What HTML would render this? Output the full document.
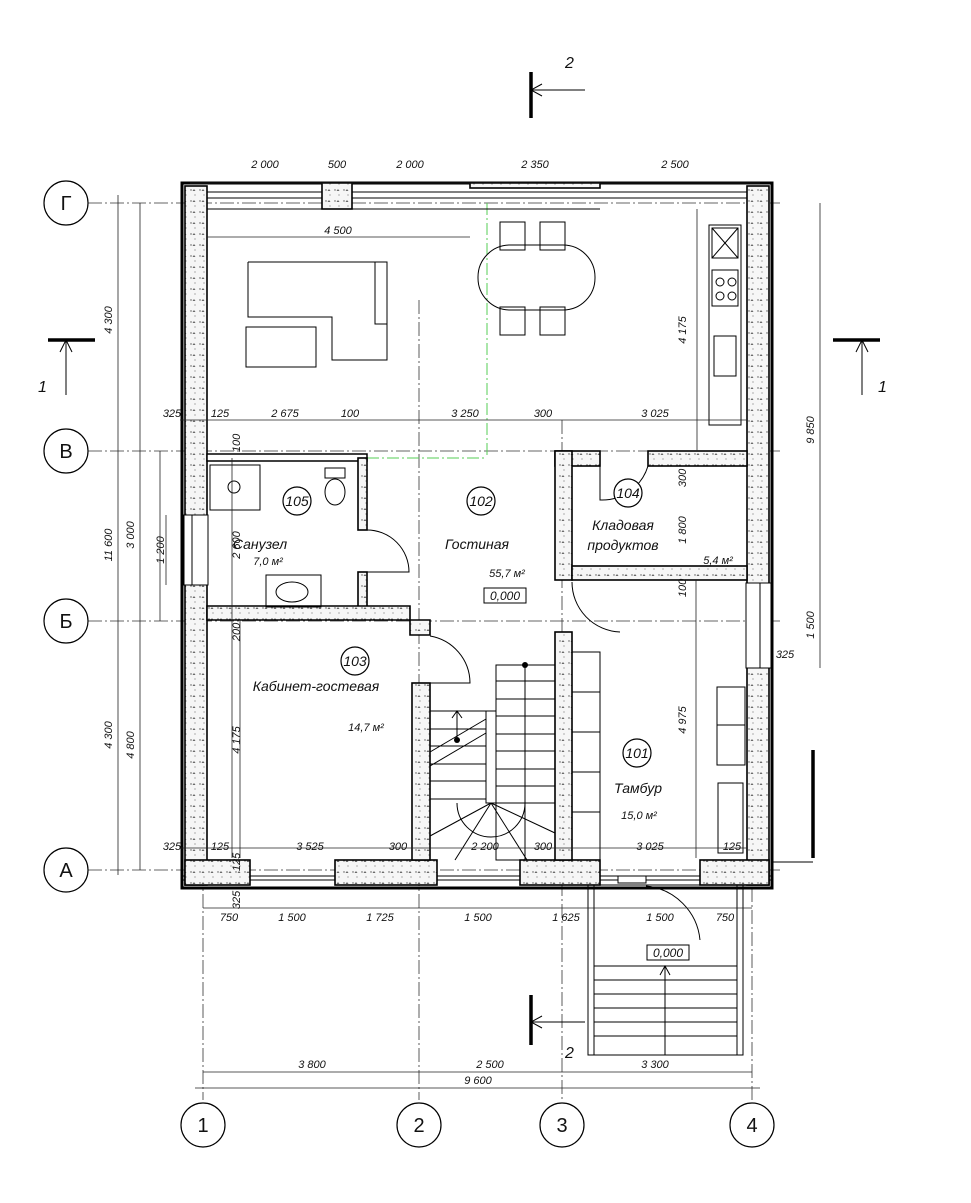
<!DOCTYPE html>
<html><head><meta charset="utf-8"><style>
body{margin:0;background:#fff}
svg{display:block}
text{font-family:"Liberation Sans",sans-serif;font-style:italic;fill:#111}
.w{fill:url(#dots);stroke:#000;stroke-width:1.6}
.t{stroke:#000;stroke-width:1;fill:none}
.ax{stroke:#333;stroke-width:0.8;stroke-dasharray:14 3 2 3;fill:none}
.g{stroke:#5c5;stroke-width:1;stroke-dasharray:12 3 2 3;fill:none}
.d{stroke:#222;stroke-width:0.8;fill:none}
.s{font-size:11px}
</style></head><body>
<svg width="971" height="1203" viewBox="0 0 971 1203" xmlns="http://www.w3.org/2000/svg">
<defs><pattern id="dots" width="9" height="11" patternUnits="userSpaceOnUse"><rect width="9" height="11" fill="#f6f6f6"/><circle cx="2" cy="3" r="0.7" fill="#555"/><circle cx="6" cy="8" r="0.6" fill="#777"/><path d="M5 2 l1.5 2 h-3z" fill="#666"/></pattern></defs>
<rect width="971" height="1203" fill="#fff"/>
<g class="ax">
<line x1="88" y1="203" x2="780" y2="203"/><line x1="88" y1="451" x2="780" y2="451"/>
<line x1="88" y1="621" x2="780" y2="621"/><line x1="88" y1="870" x2="780" y2="870"/>
<line x1="203" y1="190" x2="203" y2="1100"/><line x1="419" y1="300" x2="419" y2="1100"/>
<line x1="562" y1="420" x2="562" y2="1100"/><line x1="752" y1="580" x2="752" y2="1100"/>
</g>
<g class="g"><line x1="487" y1="203" x2="487" y2="458"/><line x1="207" y1="458" x2="487" y2="458"/></g>
<g fill="#fff" stroke="#000" stroke-width="1.2">
<circle cx="66" cy="203" r="22"/><circle cx="66" cy="451" r="22"/><circle cx="66" cy="621" r="22"/><circle cx="66" cy="870" r="22"/>
<circle cx="203" cy="1125" r="22"/><circle cx="419" cy="1125" r="22"/><circle cx="562" cy="1125" r="22"/><circle cx="752" cy="1125" r="22"/>
</g>
<g font-size="20" text-anchor="middle" style="font-family:'Liberation Serif',serif">
<text x="66" y="210" style="font-style:normal">Г</text><text x="66" y="458" style="font-style:normal">В</text><text x="66" y="628" style="font-style:normal">Б</text><text x="66" y="877" style="font-style:normal">А</text>
<text x="203" y="1132" style="font-style:normal">1</text><text x="419" y="1132" style="font-style:normal">2</text><text x="562" y="1132" style="font-style:normal">3</text><text x="752" y="1132" style="font-style:normal">4</text>
</g>
<rect x="182" y="183" width="590" height="705" fill="none" stroke="#000" stroke-width="3"/>
<rect class="w" x="185" y="186" width="22" height="699"/>
<rect class="w" x="747" y="186" width="22" height="699"/>
<rect fill="#fff" x="184" y="515" width="24" height="70" stroke="#000"/>
<line class="t" x1="192" y1="515" x2="192" y2="585"/>
<rect fill="#fff" x="746" y="583" width="25" height="85" stroke="#000"/>
<line class="t" x1="760" y1="583" x2="760" y2="668"/>
<g class="t"><line x1="207" y1="192" x2="747" y2="192"/><line x1="207" y1="198" x2="747" y2="198"/><line x1="207" y1="209" x2="322" y2="209"/><line x1="352" y1="209" x2="600" y2="209"/></g>
<rect class="w" x="322" y="183" width="30" height="26"/>
<rect class="w" x="470" y="183" width="130" height="5"/>
<g class="t"><line x1="182" y1="876" x2="772" y2="876"/><line x1="182" y1="880" x2="772" y2="880"/></g>
<rect class="w" x="185" y="860" width="65" height="25"/>
<rect class="w" x="335" y="860" width="102" height="25"/>
<rect class="w" x="520" y="860" width="80" height="25"/>
<rect class="w" x="700" y="860" width="69" height="25"/>
<rect fill="#fff" stroke="#000" x="618" y="876" width="28" height="7"/>
<rect class="w" x="555" y="451" width="45" height="15"/>
<rect class="w" x="648" y="451" width="99" height="15"/>
<rect class="w" x="555" y="451" width="17" height="129"/>
<rect class="w" x="572" y="566" width="175" height="14"/>
<rect x="207" y="454" width="160" height="7" fill="#fff" stroke="#000" stroke-width="1.5"/>
<rect class="w" x="358" y="458" width="9" height="72"/>
<rect class="w" x="358" y="572" width="9" height="40"/>
<path class="w" d="M207 606 H410 V620 H430 V635 H410 V620 H207 Z"/>
<rect class="w" x="412" y="683" width="18" height="177"/>
<rect class="w" x="555" y="632" width="17" height="228"/>
<g class="t">
<path d="M367 530 A42 42 0 0 1 409 572 H367"/>
<path d="M620 632 A50 50 0 0 1 572 582"/>
<path d="M600 466 V500 A48 48 0 0 0 648 466"/>
<path d="M430 636 A48 48 0 0 1 470 683 H430"/>
<path d="M646 886 A60 60 0 0 1 700 940"/>
</g>
<g class="t" stroke-width="1.4">
<path d="M248 262 H387 V324 H375 V262 M248 262 V317 H332 V360 H387 V324"/>
<rect x="246" y="327" width="70" height="40"/>
<rect x="478" y="245" width="117" height="65" rx="32"/>
<rect x="500" y="222" width="25" height="28"/><rect x="540" y="222" width="25" height="28"/>
<rect x="500" y="307" width="25" height="28"/><rect x="540" y="307" width="25" height="28"/>
<rect x="709" y="225" width="32" height="200"/>
<rect x="712" y="228" width="26" height="30"/><line x1="712" y1="228" x2="738" y2="258"/><line x1="738" y1="228" x2="712" y2="258"/>
<rect x="712" y="270" width="26" height="36"/><circle cx="720" cy="282" r="4"/><circle cx="732" cy="282" r="4"/><circle cx="720" cy="296" r="4"/><circle cx="732" cy="296" r="4"/>
<rect x="714" y="336" width="22" height="40"/>
<rect x="210" y="465" width="50" height="45"/><circle cx="234" cy="487" r="6"/>
<rect x="325" y="468" width="20" height="10"/><ellipse cx="335" cy="492" rx="10" ry="13"/>
<rect x="266" y="575" width="55" height="32"/><ellipse cx="292" cy="592" rx="16" ry="10"/>
<rect x="572" y="652" width="28" height="208"/>
<line x1="572" y1="692" x2="600" y2="692"/><line x1="572" y1="732" x2="600" y2="732"/><line x1="572" y1="772" x2="600" y2="772"/><line x1="572" y1="812" x2="600" y2="812"/>
<rect x="717" y="687" width="28" height="78"/><line x1="717" y1="725" x2="745" y2="725"/>
<rect x="718" y="783" width="25" height="70"/>
</g>
<g class="t">
<rect x="496" y="665" width="59" height="195" fill="none"/>
<line x1="525" y1="665" x2="525" y2="860"/>
<line x1="496" y1="681" x2="555" y2="681"/><line x1="496" y1="699" x2="555" y2="699"/><line x1="496" y1="716" x2="555" y2="716"/><line x1="496" y1="734" x2="555" y2="734"/><line x1="496" y1="751" x2="555" y2="751"/><line x1="496" y1="769" x2="555" y2="769"/><line x1="496" y1="786" x2="555" y2="786"/><line x1="496" y1="803" x2="555" y2="803"/>
<line x1="430" y1="711" x2="486" y2="711"/><line x1="430" y1="729" x2="486" y2="729"/><line x1="430" y1="746" x2="486" y2="746"/><line x1="430" y1="764" x2="486" y2="764"/><line x1="430" y1="781" x2="486" y2="781"/><line x1="430" y1="799" x2="486" y2="799"/>
<rect x="486" y="711" width="10" height="92"/>
<path d="M457 803 A34 34 0 0 0 525 803"/>
<line x1="491" y1="803" x2="430" y2="836"/><line x1="491" y1="803" x2="455" y2="860"/><line x1="491" y1="803" x2="527" y2="860"/><line x1="491" y1="803" x2="555" y2="833"/>
<line x1="457" y1="711" x2="457" y2="740"/><path d="M452 718 L457 711 L462 718"/>
<line x1="430" y1="766" x2="486" y2="733"/><line x1="430" y1="752" x2="486" y2="719"/>
</g>
<circle cx="525" cy="665" r="3"/><circle cx="457" cy="740" r="3"/>
<g class="t">
<rect x="588" y="885" width="155" height="170"/>
<line x1="594" y1="885" x2="594" y2="1055"/><line x1="737" y1="885" x2="737" y2="1055"/>
<line x1="594" y1="966" x2="737" y2="966"/><line x1="594" y1="980" x2="737" y2="980"/><line x1="594" y1="994" x2="737" y2="994"/><line x1="594" y1="1008" x2="737" y2="1008"/><line x1="594" y1="1022" x2="737" y2="1022"/><line x1="594" y1="1036" x2="737" y2="1036"/>
<line x1="665" y1="966" x2="665" y2="1055"/><path d="M660 975 L665 966 L670 975"/>
</g>
<g stroke="#000" stroke-width="3.5"><line x1="531" y1="72" x2="531" y2="118"/><line x1="531" y1="995" x2="531" y2="1045"/><line x1="48" y1="340" x2="95" y2="340"/><line x1="833" y1="340" x2="880" y2="340"/><line x1="813" y1="750" x2="813" y2="858"/></g>
<g class="t"><line x1="531" y1="90" x2="585" y2="90"/><path d="M542 84 L531 90 L542 96"/>
<line x1="531" y1="1022" x2="585" y2="1022"/><path d="M542 1016 L531 1022 L542 1028"/>
<line x1="66" y1="340" x2="66" y2="395"/><path d="M60 352 L66 340 L72 352"/>
<line x1="862" y1="340" x2="862" y2="395"/><path d="M856 352 L862 340 L868 352"/>
<line x1="772" y1="862" x2="813" y2="862"/></g>
<g font-size="16"><text x="565" y="68">2</text><text x="565" y="1058">2</text><text x="38" y="392">1</text><text x="878" y="392">1</text></g>
<g class="d">
<line x1="190" y1="183" x2="760" y2="183"/>
<line x1="203" y1="908" x2="752" y2="908"/>
<line x1="203" y1="1072" x2="752" y2="1072"/><line x1="195" y1="1088" x2="760" y2="1088"/>
<line x1="207" y1="237" x2="470" y2="237"/>
<line x1="180" y1="420" x2="747" y2="420"/><line x1="180" y1="848" x2="747" y2="848"/>
<line x1="118" y1="195" x2="118" y2="875"/><line x1="140" y1="203" x2="140" y2="870"/><line x1="160" y1="451" x2="160" y2="621"/>
<line x1="166" y1="515" x2="166" y2="585"/>
<line x1="820" y1="203" x2="820" y2="668"/>
<line x1="232" y1="458" x2="232" y2="858"/><line x1="697" y1="209" x2="697" y2="451"/><line x1="696" y1="580" x2="696" y2="858"/>
<line x1="240" y1="620" x2="240" y2="858"/>
</g>
<g class="s" text-anchor="middle">
<text x="265" y="168">2 000</text><text x="337" y="168">500</text><text x="410" y="168">2 000</text><text x="535" y="168">2 350</text><text x="675" y="168">2 500</text>
<text x="338" y="234">4 500</text>
<text x="172" y="417">325</text><text x="220" y="417">125</text><text x="285" y="417">2 675</text><text x="350" y="417">100</text><text x="465" y="417">3 250</text><text x="543" y="417">300</text><text x="655" y="417">3 025</text>
<text x="172" y="850">325</text><text x="220" y="850">125</text><text x="310" y="850">3 525</text><text x="398" y="850">300</text><text x="485" y="850">2 200</text><text x="543" y="850">300</text><text x="650" y="850">3 025</text><text x="732" y="850">125</text>
<text x="229" y="921">750</text><text x="292" y="921">1 500</text><text x="380" y="921">1 725</text><text x="478" y="921">1 500</text><text x="566" y="921">1 625</text><text x="660" y="921">1 500</text><text x="725" y="921">750</text>
<text x="312" y="1068">3 800</text><text x="490" y="1068">2 500</text><text x="655" y="1068">3 300</text><text x="478" y="1084">9 600</text>
<text x="785" y="658">325</text>
</g>
<g class="s" text-anchor="middle">
<text transform="translate(112,320) rotate(-90)">4 300</text>
<text transform="translate(112,545) rotate(-90)">11 600</text>
<text transform="translate(112,735) rotate(-90)">4 300</text>
<text transform="translate(134,535) rotate(-90)">3 000</text>
<text transform="translate(134,745) rotate(-90)">4 800</text>
<text transform="translate(164,550) rotate(-90)">1 200</text>
<text transform="translate(240,443) rotate(-90)">100</text>
<text transform="translate(240,545) rotate(-90)">2 600</text>
<text transform="translate(240,632) rotate(-90)">200</text>
<text transform="translate(240,740) rotate(-90)">4 175</text>
<text transform="translate(240,862) rotate(-90)">125</text>
<text transform="translate(240,900) rotate(-90)">325</text>
<text transform="translate(686,330) rotate(-90)">4 175</text>
<text transform="translate(686,478) rotate(-90)">300</text>
<text transform="translate(686,530) rotate(-90)">1 800</text>
<text transform="translate(686,588) rotate(-90)">100</text>
<text transform="translate(686,720) rotate(-90)">4 975</text>
<text transform="translate(814,430) rotate(-90)">9 850</text>
<text transform="translate(814,625) rotate(-90)">1 500</text>
</g>
<g fill="#fff" stroke="#000" stroke-width="1.2">
<circle cx="297" cy="501" r="14"/><circle cx="481" cy="501" r="14"/><circle cx="628" cy="493" r="14"/><circle cx="355" cy="661" r="14"/><circle cx="637" cy="753" r="14"/>
</g>
<g font-size="14" text-anchor="middle">
<text x="297" y="506">105</text><text x="481" y="506">102</text><text x="628" y="498">104</text><text x="355" y="666">103</text><text x="637" y="758">101</text>
<text x="260" y="549">Санузел</text><text x="477" y="549">Гостиная</text><text x="623" y="530">Кладовая</text><text x="623" y="550">продуктов</text><text x="316" y="691">Кабинет-гостевая</text><text x="638" y="793">Тамбур</text>
</g>
<g font-size="11" text-anchor="middle">
<text x="268" y="565">7,0 м²</text><text x="507" y="577">55,7 м²</text><text x="718" y="564">5,4 м²</text><text x="366" y="731">14,7 м²</text><text x="639" y="819">15,0 м²</text>
</g>
<rect x="484" y="588" width="42" height="15" fill="none" stroke="#000"/><text x="505" y="600" font-size="12" text-anchor="middle">0,000</text>
<rect x="647" y="945" width="42" height="15" fill="none" stroke="#000"/><text x="668" y="957" font-size="12" text-anchor="middle">0,000</text>
</svg>
</body></html>
